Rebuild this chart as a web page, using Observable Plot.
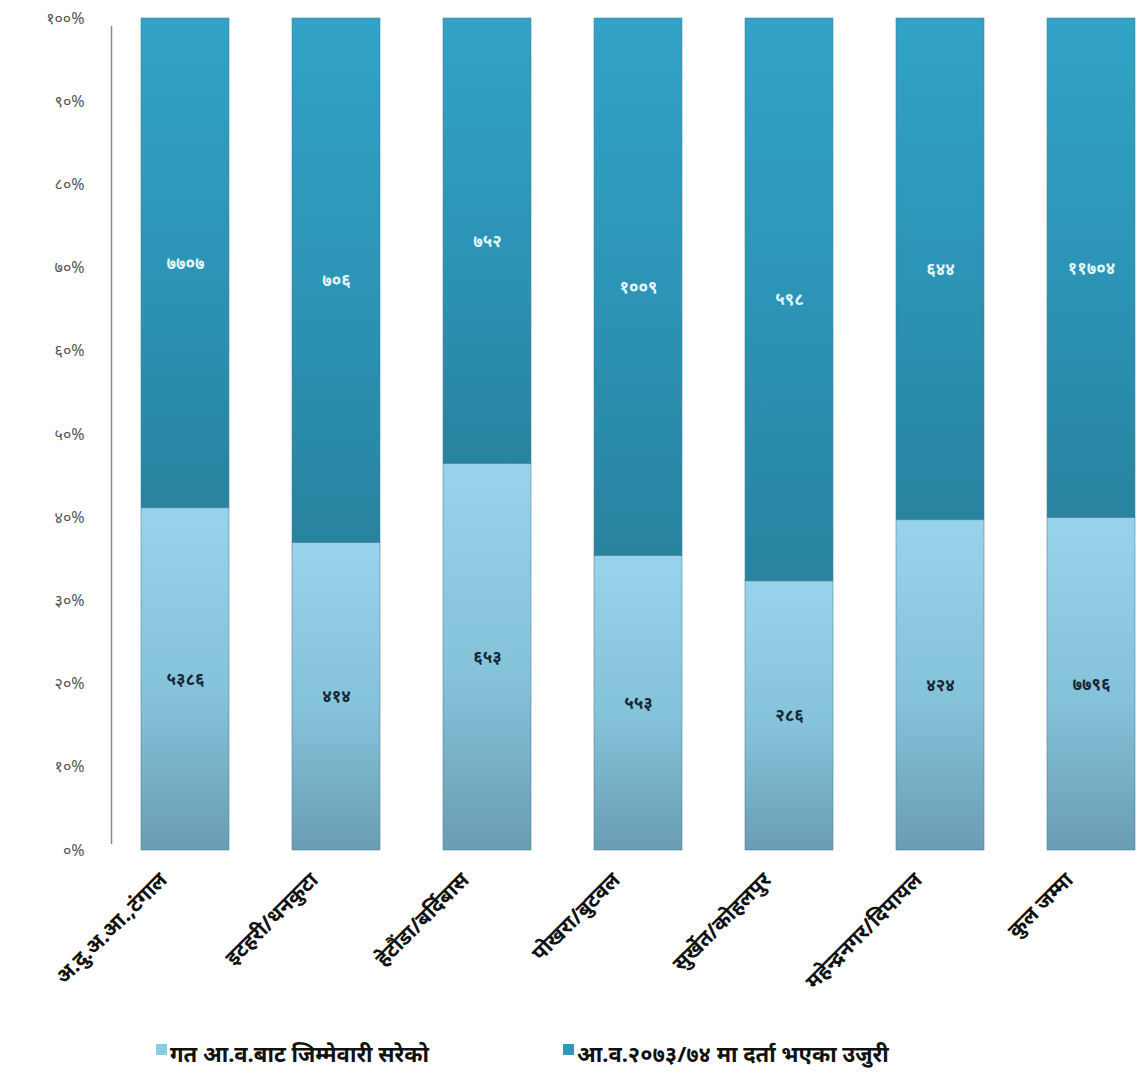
<!DOCTYPE html>
<html>
<head>
<meta charset="utf-8">
<script src="https://cdn.jsdelivr.net/npm/d3@7"></script>
<script src="https://cdn.jsdelivr.net/npm/@observablehq/plot@0.6"></script>
<style>
  html, body { margin: 0; padding: 0; background: #fff; overflow: hidden; }
  #chart { position: relative; width: 1137px; }
  .legend { position: relative; height: 40px; margin-top: 6px; font-family: "Noto Sans", "Lato", sans-serif; font-weight: bold; font-size: 22px; color: #111; }
  .legend .item { position: absolute; top: 0; display: flex; align-items: center; white-space: nowrap; }
  .legend .sw { width: 11px; height: 11px; margin-right: 3px; margin-top: -8px; }
</style>
</head>
<body>
<div id="chart"></div>
<script>
const categories = [
  "अ.दु.अ.आ.,टंगाल",
  "इटहरी/धनकुटा",
  "हेटौंडा/बर्दिबास",
  "पोखरा/बुटवल",
  "सुर्खेत/कोहलपुर",
  "महेन्द्रनगर/दिपायल",
  "कुल जम्मा"
];
const seriesNames = ["गत आ.व.बाट जिम्मेवारी सरेको", "आ.व.२०७३/७४ मा दर्ता भएका उजुरी"];
const carriedOver = [5386, 414, 653, 553, 286, 424, 7796];
const registered  = [7707, 706, 752, 1009, 598, 644, 11704];
const yTicks = [0, 0.1, 0.2, 0.3, 0.4, 0.5, 0.6, 0.7, 0.8, 0.9, 1.0];

const devDigits = "०१२३४५६७८९";
const toDev = s => String(s).replace(/[0-9]/g, d => devDigits[+d]);

const rows = [];
categories.forEach((c, i) => {
  rows.push({category: c, series: seriesNames[0], value: carriedOver[i], order: 0});
  rows.push({category: c, series: seriesNames[1], value: registered[i], order: 1});
});

const W = 1137, H = 1032;
const plot = Plot.plot({
  width: W,
  height: H,
  marginTop: 18,
  marginBottom: 182,
  marginLeft: 108,
  marginRight: 0,
  style: {fontFamily: "'Noto Sans', 'Lato', sans-serif", background: "#fff", overflow: "hidden"},
  x: {domain: categories, range: [108, 1168], paddingInner: 0.42, paddingOuter: 0.21, label: null, axis: null},
  y: {domain: [0, 1], label: null, axis: null},
  color: {domain: seriesNames, range: ["url(#gBottom)", "url(#gTop)"]},
  marks: [
    Plot.barY(rows, Plot.stackY({
      offset: "normalize", order: "order",
      x: "category", y: "value", fill: "series",
      stroke: "#4f7f93", strokeWidth: 0.8, strokeOpacity: 0.7
    })),
    Plot.text(rows, Plot.stackY({
      offset: "normalize", order: "order",
      x: "category", y: "value",
      text: d => toDev(d.value),
      fill: d => d.order === 0 ? "#142733" : "#e4f7fc",
      fontSize: 17, fontWeight: "bold"
    })),
    // y axis line
    Plot.ruleX([0], {x: () => categories[0], dx: -74, y1: 0, y2: 1, stroke: "#8a8a8a", strokeWidth: 1.5, insetBottom: -8, insetTop: -6}),
    Plot.axisY(yTicks, {
      tickSize: 0, tickPadding: 0, dx: -24,
      tickFormat: d => toDev(Math.round(d * 100)) + "%",
      fill: "#555", fontSize: 16
    }),
    Plot.axisX({
      tickSize: 0, tickRotate: -45, tickPadding: 26, dx: -22,
      fontSize: 21, fontWeight: "bold", fill: "#111", label: null
    })
  ]
});

// gradients
const svg = d3.select(plot.tagName === "svg" ? plot : plot.querySelector("svg"));
const defs = svg.insert("defs", ":first-child");
const g1 = defs.append("linearGradient").attr("id", "gBottom").attr("x1", 0).attr("y1", 0).attr("x2", 0).attr("y2", 1);
g1.append("stop").attr("offset", "0%").attr("stop-color", "#97d4eb");
g1.append("stop").attr("offset", "55%").attr("stop-color", "#84c2da");
g1.append("stop").attr("offset", "100%").attr("stop-color", "#6a9db3");
const g2 = defs.append("linearGradient").attr("id", "gTop").attr("x1", 0).attr("y1", 0).attr("x2", 0).attr("y2", 1);
g2.append("stop").attr("offset", "0%").attr("stop-color", "#31a3c6");
g2.append("stop").attr("offset", "55%").attr("stop-color", "#2c93b5");
g2.append("stop").attr("offset", "100%").attr("stop-color", "#28839f");

document.getElementById("chart").appendChild(plot);

// legend
const legend = document.createElement("div");
legend.className = "legend";
const swatchColors = ["#8ccbe3", "#2e98bb"];
const legendLeft = [156, 563];
seriesNames.forEach((s, i) => {
  const it = document.createElement("div");
  it.className = "item";
  it.style.left = legendLeft[i] + "px";
  const sw = document.createElement("span");
  sw.className = "sw";
  sw.style.background = swatchColors[i];
  const tx = document.createElement("span");
  tx.textContent = s;
  it.appendChild(sw); it.appendChild(tx);
  legend.appendChild(it);
});
document.getElementById("chart").appendChild(legend);
</script>
</body>
</html>
